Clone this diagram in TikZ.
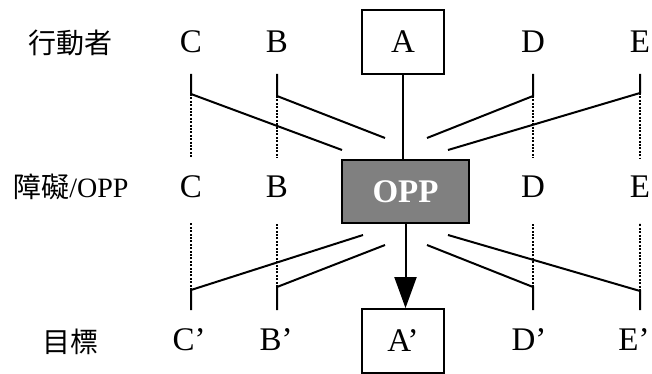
\documentclass[tikz,border=0pt]{standalone}
\usepackage{fontspec}
\setmainfont{Liberation Serif}
\newfontfamily\cjk{Noto Sans CJK TC}
\usetikzlibrary{arrows.meta}

\tikzstyle{actor} = [inner sep=0pt, font=\fontsize{33}{36}\selectfont]
\tikzstyle{rowlabel} = [inner sep=0pt, font=\fontsize{28}{32}\selectfont]
\tikzstyle{target} = [rectangle, minimum width=82pt, minimum height=64pt, text centered, draw=black, line width=1.8pt, fill=white, font=\fontsize{33}{36}\selectfont]
\tikzstyle{blocker} = [rectangle, minimum width=127pt, minimum height=63pt, text centered, draw=black, line width=1.8pt, fill=gray, text=white, font=\fontsize{33}{36}\selectfont\bfseries]
\tikzstyle{link} = [line width=2pt]
\tikzstyle{trace} = [line width=1.2pt, dash pattern=on 2pt off 1.4pt]
\tikzstyle{arrow} = [line width=2pt, -{Triangle[length=31pt,width=22pt]}]

\begin{document}
\begin{tikzpicture}[x=1pt, y=-1pt]
\useasboundingbox (0,0) rectangle (652,374);

% Define nodes
\node (lblTop) [rowlabel] at (70,43) {\cjk 行動者};
\node (lblMid) [rowlabel] at (71,187) {\cjk 障礙\rmfamily/OPP};
\node (lblBot) [rowlabel] at (70,342) {\cjk 目標};

\node (cTop) [actor] at (191,42) {C};
\node (bTop) [actor] at (277,42) {B};
\node (aTop) [target] at (403,42) {A};
\node (dTop) [actor] at (533,42) {D};
\node (eTop) [actor] at (640,42) {E};

\node (cMid) [actor] at (191,187) {C};
\node (bMid) [actor] at (277,187) {B};
\node (opp) [blocker] at (405.5,191.5) {OPP};
\node (dMid) [actor] at (533,187) {D};
\node (eMid) [actor] at (640,187) {E};

\node (cBot) [actor] at (189,340) {C’};
\node (bBot) [actor] at (276,340) {B’};
\node (aBot) [target] at (403,341) {A’};
\node (dBot) [actor] at (529,340) {D’};
\node (eBot) [actor] at (634,340) {E’};

% Define coordinates of the leader lines
\coordinate (cUp) at (191,74);  \coordinate (cUpBend) at (191,94);  \coordinate (cUpDot) at (191,158); \coordinate (cUpEnd) at (342,150);
\coordinate (bUp) at (277,74);  \coordinate (bUpBend) at (277,96);  \coordinate (bUpDot) at (277,158); \coordinate (bUpEnd) at (385,138);
\coordinate (dUp) at (533,74);  \coordinate (dUpBend) at (533,96);  \coordinate (dUpDot) at (533,158); \coordinate (dUpEnd) at (427,138);
\coordinate (eUp) at (640,74);  \coordinate (eUpBend) at (640,93);  \coordinate (eUpDot) at (640,158); \coordinate (eUpEnd) at (448,150);

\coordinate (cDn) at (191,310); \coordinate (cDnBend) at (191,290); \coordinate (cDnDot) at (191,223); \coordinate (cDnEnd) at (363,235);
\coordinate (bDn) at (277,310); \coordinate (bDnBend) at (277,287); \coordinate (bDnDot) at (277,223); \coordinate (bDnEnd) at (385,245);
\coordinate (dDn) at (533,310); \coordinate (dDnBend) at (533,287); \coordinate (dDnDot) at (533,223); \coordinate (dDnEnd) at (427,245);
\coordinate (eDn) at (640,310); \coordinate (eDnBend) at (640,291); \coordinate (eDnDot) at (640,223); \coordinate (eDnEnd) at (448,235);

% Draw leader lines
\draw [link] (cUp) -- (cUpBend) -- (cUpEnd);
\draw [link] (bUp) -- (bUpBend) -- (bUpEnd);
\draw [link] (dUp) -- (dUpBend) -- (dUpEnd);
\draw [link] (eUp) -- (eUpBend) -- (eUpEnd);
\draw [link] (cDn) -- (cDnBend) -- (cDnEnd);
\draw [link] (bDn) -- (bDnBend) -- (bDnEnd);
\draw [link] (dDn) -- (dDnBend) -- (dDnEnd);
\draw [link] (eDn) -- (eDnBend) -- (eDnEnd);

\draw [trace] (cUpBend) -- (cUpDot);
\draw [trace] (bUpBend) -- (bUpDot);
\draw [trace] (dUpBend) -- (dUpDot);
\draw [trace] (eUpBend) -- (eUpDot);
\draw [trace] (cDnBend) -- (cDnDot);
\draw [trace] (bDnBend) -- (bDnDot);
\draw [trace] (dDnBend) -- (dDnDot);
\draw [trace] (eDnBend) -- (eDnDot);

% Draw arrows
\draw [link] (aTop) -- (aTop |- opp.north);
\draw [arrow] (opp) -- (opp |- aBot.north);

\end{tikzpicture}
\end{document}
